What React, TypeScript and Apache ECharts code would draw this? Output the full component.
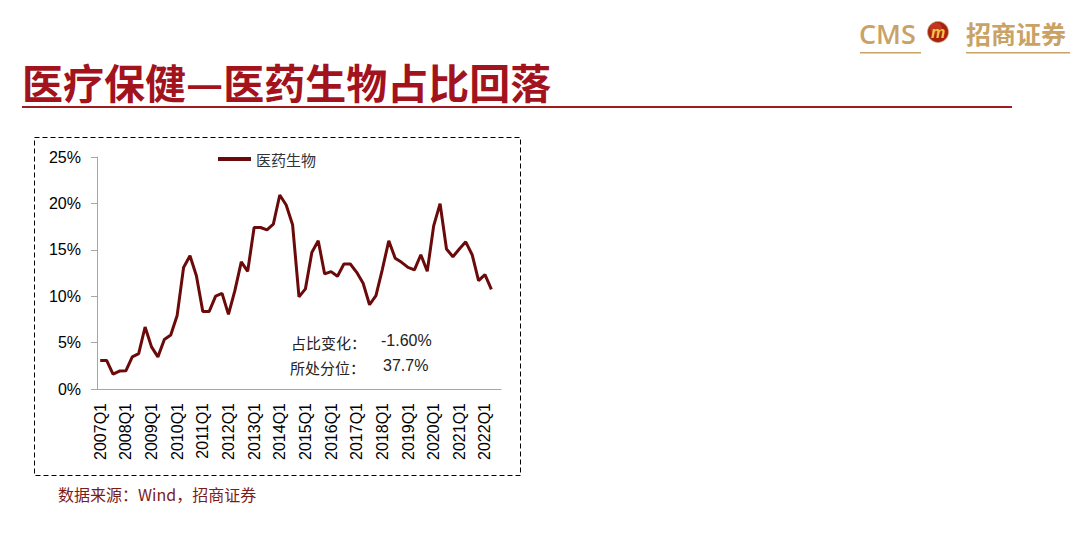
import React, { useEffect, useRef } from "react";
import * as echarts from "echarts";

const years = ["2007", "2008", "2009", "2010", "2011", "2012", "2013", "2014", "2015", "2016", "2017", "2018", "2019", "2020", "2021", "2022"];
const quarters = ["Q1", "Q2", "Q3", "Q4"];
const categories: string[] = [];
years.forEach((y) => quarters.forEach((q) => categories.push(y + q)));
const shownCategories = categories.slice(0, 63); // 2007Q1 .. 2022Q3

const seriesName = "医药生物";
const shareValues: (number | null)[] = [
  3.08, 3.08, 1.6, 1.93,
  1.96, 3.46, 3.82, 6.68,
  4.54, 3.46, 5.33, 5.82,
  7.93, 13.1, 14.36, 12.2,
  8.36, 8.36, 10.0, 10.3,
  8.04, 10.6, 13.7, 12.68,
  17.4, 17.4, 17.15, 17.76,
  20.9, 19.83, 17.7, 9.93,
  10.79, 14.7, 15.97, 12.4,
  12.65, 12.15, 13.47, 13.47,
  12.57, 11.39, 9.08, 10.07,
  12.9, 15.97, 14.1, 13.65,
  13.1, 12.83, 14.47, 12.68,
  17.58, 19.97, 15.08, 14.25,
  15.08, 15.86, 14.47, 11.68,
  12.33, 10.73, null,
];
const yTicks = { min: 0, max: 25, interval: 5 };

const titleText = "医疗保健—医药生物占比回落";
const changeLabel = "占比变化：";
const changeValue = "-1.60%";
const pctLabel = "所处分位：";
const pctValue = "37.7%";
const sourceText = "数据来源：Wind，招商证券";

const LINE = "#6B0A0A";
const AXIS = "#A6A6A6";
const CJK = "'Noto Sans CJK SC', sans-serif";
const LAT = "'Liberation Sans', Arial, sans-serif";
const GOLD = "#C9A265";

export default function App() {
  const ref = useRef<HTMLDivElement>(null);
  useEffect(() => {
    if (!ref.current) return;
    const chart = echarts.init(ref.current, undefined, { renderer: "svg" });
    chart.setOption({
      animation: false,
      backgroundColor: "#fff",
      grid: { left: 97, right: 579, top: 157, bottom: 163, containLabel: false },
      legend: {
        data: [seriesName],
        left: 218,
        top: 151,
        padding: 0,
        icon: "rect",
        itemWidth: 33,
        itemHeight: 4,
        textStyle: { fontSize: 15, fontFamily: CJK, color: "#333", lineHeight: 16 },
      },
      xAxis: {
        type: "category",
        data: shownCategories,
        boundaryGap: true,
        axisLine: { lineStyle: { color: AXIS, width: 1 } },
        axisTick: { interval: 3, length: 6, lineStyle: { color: AXIS } },
        axisLabel: { interval: 3, rotate: 90, fontSize: 16, fontFamily: LAT, color: "#000", margin: 14 },
      },
      yAxis: {
        type: "value",
        min: yTicks.min,
        max: yTicks.max,
        interval: yTicks.interval,
        axisLine: { show: true, lineStyle: { color: AXIS, width: 1 } },
        axisTick: { show: true, length: 6, lineStyle: { color: AXIS } },
        splitLine: { show: false },
        axisLabel: { formatter: "{value}%", fontSize: 16, fontFamily: LAT, color: "#000", margin: 16 },
      },
      series: [
        {
          name: seriesName,
          type: "line",
          data: shareValues,
          symbol: "none",
          lineStyle: { color: LINE, width: 3 },
          itemStyle: { color: LINE },
        },
      ],
      graphic: [
        // title
        {
          type: "text",
          left: 22,
          top: 60,
          style: { text: titleText, fontSize: 41, fontWeight: "bold", fontFamily: CJK, fill: "#A3131D" },
        },
        {
          type: "rect",
          shape: { x: 22, y: 106, width: 990, height: 2 },
          style: { fill: "#9E1B20" },
        },
        // logo
        {
          type: "text",
          left: 859,
          top: 20,
          style: { text: "CMS", fontSize: 27, fontWeight: 600, fontFamily: "'Open Sans', sans-serif", fill: GOLD },
        },
        {
          type: "circle",
          shape: { cx: 938, cy: 32, r: 10.5 },
          style: { fill: "#A82012", stroke: "#C9A265", lineWidth: 0.8 },
        },
        {
          type: "circle",
          shape: { cx: 936, cy: 28.5, r: 6 },
          style: { fill: "#D2452E", opacity: 0.6 },
        },
        {
          type: "text",
          x: 938,
          y: 32,
          style: { text: "m", fontSize: 16, fontWeight: "bold", fontStyle: "italic", fontFamily: LAT, fill: "#F5C542", align: "center", verticalAlign: "middle" },
        },
        {
          type: "text",
          left: 966,
          top: 20,
          style: { text: "招商证券", fontSize: 25, fontWeight: "bold", fontFamily: CJK, fill: GOLD },
        },
        { type: "rect", shape: { x: 860, y: 52, width: 61, height: 1.5 }, style: { fill: GOLD } },
        { type: "rect", shape: { x: 966, y: 52, width: 104, height: 1.5 }, style: { fill: GOLD } },
        // dashed frame
        {
          type: "rect",
          shape: { x: 34.5, y: 137.5, width: 486, height: 338 },
          style: { fill: "none", stroke: "#000", lineWidth: 1, lineDash: [5, 3] },
        },
        // annotations
        {
          type: "text",
          x: 291,
          y: 342,
          style: { text: changeLabel, fontSize: 15, fontFamily: CJK, fill: "#222", verticalAlign: "middle" },
        },
        {
          type: "text",
          x: 381,
          y: 340,
          style: { text: changeValue, fontSize: 16, fontFamily: LAT, fill: "#222", verticalAlign: "middle" },
        },
        {
          type: "text",
          x: 290,
          y: 367,
          style: { text: pctLabel, fontSize: 15, fontFamily: CJK, fill: "#222", verticalAlign: "middle" },
        },
        {
          type: "text",
          x: 383,
          y: 365,
          style: { text: pctValue, fontSize: 16, fontFamily: LAT, fill: "#222", verticalAlign: "middle" },
        },
        // source
        {
          type: "text",
          x: 58,
          y: 494,
          style: { text: sourceText, fontSize: 16, fontFamily: CJK, fill: "#7A1C1C", verticalAlign: "middle" },
        },
      ],
    });
    return () => chart.dispose();
  }, []);
  return (
    <div
      ref={ref}
      style={{ position: "absolute", left: 0, top: 0, width: 1080, height: 552, background: "#fff" }}
    />
  );
}
